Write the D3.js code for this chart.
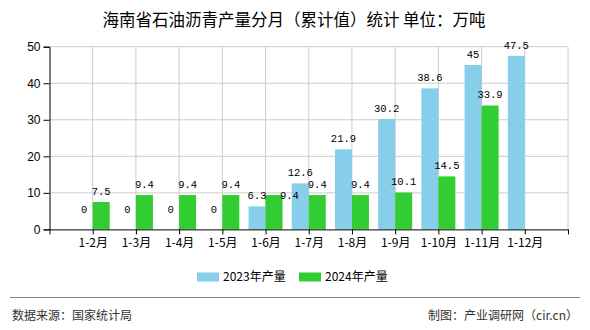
<!DOCTYPE html>
<html><head><meta charset="utf-8">
<script src="https://cdnjs.cloudflare.com/ajax/libs/d3/7.8.5/d3.min.js"></script>
<style>body{margin:0;background:#fff}svg{display:block}</style>
</head><body>
<svg id="c" width="590" height="330"></svg>
<script>
const categories = ["1-2月","1-3月","1-4月","1-5月","1-6月","1-7月","1-8月","1-9月","1-10月","1-11月","1-12月"];
const series2023 = [0,0,0,0,6.3,12.6,21.9,30.2,38.6,45,47.5];
const series2024 = [7.5,9.4,9.4,9.4,9.4,9.4,9.4,10.1,14.5,33.9,null];
const yTicks = [0,10,20,30,40,50];
const seriesNames = ["2023年产量","2024年产量"];
const colors = ["#87CEEB","#32CD32"];

(function(){
const svg = d3.select("#c");
const cjk = "'Noto Sans CJK SC','Liberation Sans',sans-serif";
const mono = "'Liberation Mono','DejaVu Sans Mono',monospace";

const pL = 49.5, pR = 568, pT = 46.7, pB = 229.4;
const x = d3.scaleLinear().domain([0, categories.length + 1]).range([pL, pR]);
const y = d3.scaleLinear().domain([0, 50]).range([pB, pT]);
const barW = 17;

// title
svg.append("text").attr("x", 294).attr("y", 26).attr("text-anchor","middle")
  .style("font-family", cjk).style("font-size","16.5px").attr("fill","#000")
  .text("海南省石油沥青产量分月（累计值）统计 单位：万吨");

// grid
const g = svg.append("g");
g.selectAll("line.hg").data(yTicks.filter(d=>d>0)).join("line")
  .attr("x1", pL).attr("x2", pR).attr("y1", d=>y(d)).attr("y2", d=>y(d))
  .attr("stroke","#ccc").attr("stroke-width",1);
const vIdx = d3.range(1, categories.length + 2);
g.selectAll("line.vg").data(vIdx).join("line")
  .attr("x1", d=>x(d)).attr("x2", d=>x(d)).attr("y1", pT).attr("y2", pB)
  .attr("stroke","#ccc").attr("stroke-width",1);

// bars
const bars = svg.append("g");
bars.selectAll("rect.b23").data(series2023).join("rect")
  .attr("x", (d,i)=>x(i+1)-barW).attr("width", barW)
  .attr("y", d=>y(d)).attr("height", d=>pB - y(d)).attr("fill", colors[0]);
bars.selectAll("rect.b24").data(series2024.map((v,i)=>({v,i})).filter(d=>d.v!=null)).join("rect")
  .attr("x", d=>x(d.i+1)).attr("width", barW)
  .attr("y", d=>y(d.v)).attr("height", d=>pB - y(d.v)).attr("fill", colors[1]);

// axes
const yAxis = d3.axisLeft(y).tickValues(yTicks).tickSize(6).tickPadding(3);
const ya = svg.append("g").attr("transform", `translate(${pL},0)`).call(yAxis);
ya.select(".domain").attr("stroke","#000");
ya.selectAll(".tick line").attr("stroke","#000");
ya.selectAll(".tick text").style("font-family","'Liberation Sans',Arial,sans-serif").style("font-size","12px").attr("fill","#000");

const xAxis = d3.axisBottom(x).tickValues(d3.range(0, categories.length + 2))
  .tickFormat(d => (d>=1 && d<=categories.length) ? categories[d-1] : "").tickSize(5).tickSizeOuter(0).tickPadding(4);
const xa = svg.append("g").attr("transform", `translate(0,${pB})`).call(xAxis);
xa.select(".domain").attr("stroke","#000");
xa.selectAll(".tick line").attr("stroke","#000");
xa.selectAll(".tick text").style("font-family", cjk).style("font-size","12px").attr("fill","#000");

// labels
const lab = svg.append("g").style("font-family", mono).style("font-size","10.5px").attr("fill","#000").attr("text-anchor","middle");
const blueLabelY = series2023.map(v => y(Math.max(v, 2.5)) - 11);
lab.selectAll("text.l23").data(series2023).join("text")
  .attr("x", (d,i)=>x(i+1)-barW/2).attr("y", (d,i)=>blueLabelY[i]).attr("dy","0.35em").text(d=>d);
const greenLabels = series2024.map((v,i)=>({v,i})).filter(d=>d.v!=null).map(d => {
  let ly = y(d.v) - 11, lx = x(d.i+1) + barW/2;
  const by = blueLabelY[d.i];
  if (ly < by && by - ly < 12) { ly = by; lx += barW * 0.9; }
  return {v: d.v, lx, ly};
});
lab.selectAll("text.l24").data(greenLabels).join("text")
  .attr("x", d=>d.lx).attr("y", d=>d.ly).attr("dy","0.35em").text(d=>d.v);

// legend
const lg = svg.append("g");
const lx = [197, 299];
seriesNames.forEach((n,i)=>{
  lg.append("rect").attr("x", lx[i]).attr("y", 272.5).attr("width",22).attr("height",9).attr("fill",colors[i]);
  lg.append("text").attr("x", lx[i]+26).attr("y", 277).attr("dy","0.35em")
    .style("font-family", cjk).style("font-size","12px").attr("fill","#000").text(n);
});

// footer
svg.append("line").attr("x1",10).attr("x2",580).attr("y1",297.5).attr("y2",297.5).attr("stroke","#888").attr("stroke-width",1);
svg.append("text").attr("x",12).attr("y",316).attr("dy","0.35em").style("font-family",cjk).style("font-size","12px").attr("fill","#333").text("数据来源：国家统计局");
svg.append("text").attr("x",578).attr("y",316).attr("dy","0.35em").attr("text-anchor","end").style("font-family",cjk).style("font-size","12px").attr("fill","#333").text("制图：产业调研网（cir.cn）");
})();
</script>
</body></html>
